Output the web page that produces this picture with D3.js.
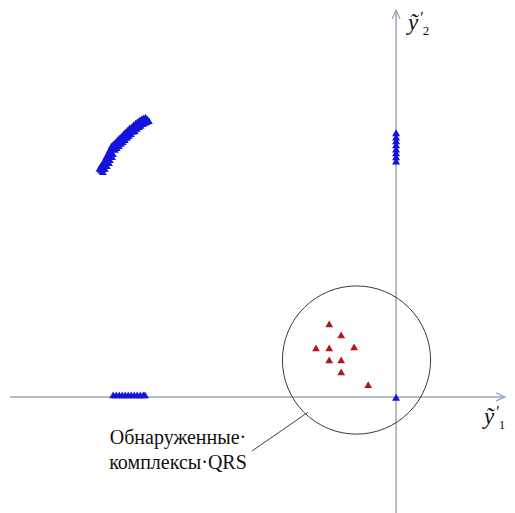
<!DOCTYPE html>
<html>
<head>
<meta charset="utf-8">
<script src="https://cdn.jsdelivr.net/npm/d3@7"></script>
<style>
  body { margin: 0; background: #fff; }
  svg { display: block; }
  text { font-family: "Liberation Serif", "Times New Roman", serif; }
</style>
</head>
<body>
<div id="app"></div>
<script>
const d3 = window.d3;
const width = 515, height = 513;

// Обнаруженные комплексы QRS (red)
const qrsX = [-2.23, -1.83, -2.67, -2.23, -1.40, -2.23, -1.83, -1.83, -0.93];
const qrsY = [2.40, 2.03, 1.60, 1.60, 1.63, 1.20, 1.20, 0.80, 0.37];

// diagonal blue band
const bandX = [-9.83, -9.77, -9.70, -9.63, -9.60, -9.53, -9.50,
  -9.43, -9.37, -9.30, -9.23, -9.17, -9.10, -9.03, -8.97, -8.90, -8.83,
  -8.77, -8.70, -8.63, -8.57, -8.50, -8.43, -8.37, -8.30];
const bandY = [7.53, 7.63, 7.73, 7.83, 7.93, 8.03, 8.13,
  8.27, 8.33, 8.40, 8.47, 8.53, 8.60, 8.67, 8.73, 8.80, 8.87,
  8.90, 8.97, 9.03, 9.07, 9.13, 9.17, 9.20, 9.23];

// blue points on the y2 axis
const onY2 = [8.77, 8.63, 8.50, 8.37, 8.23, 8.10, 7.97, 7.83];
// blue points on the y1 axis
const onY1 = [-9.43, -9.33, -9.23, -9.13, -9.03, -8.93, -8.83, -8.73, -8.63, -8.53, -8.43, -8.37];

const circle = { cx: -1.32, cy: 1.23, r: 2.47 };

const x = d3.scaleLinear().domain([-12.87, 3.63]).range([10, 505]);
const y = d3.scaleLinear().domain([-3.87, 12.9]).range([513, 10]);

const svg = d3.select("#app").append("svg").attr("width", width).attr("height", height);

const axisColor = "#9aa6b6";

// axes
svg.append("line")
  .attr("x1", x(-12.87)).attr("x2", x(3.55))
  .attr("y1", y(0)).attr("y2", y(0))
  .attr("stroke", axisColor).attr("stroke-width", 1.5);
svg.append("line")
  .attr("x1", x(0)).attr("x2", x(0))
  .attr("y1", y(-3.87)).attr("y2", y(12.85))
  .attr("stroke", axisColor).attr("stroke-width", 1.5);

// arrow heads
svg.append("path")
  .attr("d", `M${x(3.63) - 9},${y(0) - 4} L${x(3.63)},${y(0)} L${x(3.63) - 9},${y(0) + 4}`)
  .attr("fill", "none").attr("stroke", "#8fa6c6").attr("stroke-width", 1.3);
svg.append("path")
  .attr("d", `M${x(0) - 4},${y(12.9) + 9} L${x(0)},${y(12.9)} L${x(0) + 4},${y(12.9) + 9}`)
  .attr("fill", "none").attr("stroke", axisColor).attr("stroke-width", 1.3);

// circle around detected QRS complexes
svg.append("circle")
  .attr("cx", x(circle.cx)).attr("cy", y(circle.cy))
  .attr("r", x(circle.r) - x(0))
  .attr("fill", "none").attr("stroke", "#3a3a3a").attr("stroke-width", 1);

const tri = d3.symbol().type(d3.symbolTriangle);

// the band is a few triangles thick: draw each point with a small spread across it
const blue = [];
[-0.055, 0, 0.055].forEach(o => {
  bandX.forEach((v, i) => blue.push([v + o, bandY[i] - o]));
});
onY2.forEach(v => blue.push([0, v]));
onY1.forEach(v => blue.push([v, 0.03]));
blue.push([0, -0.05]);

svg.append("g").selectAll("path")
  .data(blue)
  .join("path")
  .attr("transform", d => `translate(${x(d[0])},${y(d[1])})`)
  .attr("d", tri.size(28)())
  .attr("fill", "#1414dc");

svg.append("g").selectAll("path")
  .data(qrsX.map((v, i) => [v, qrsY[i]]))
  .join("path")
  .attr("transform", d => `translate(${x(d[0])},${y(d[1])})`)
  .attr("d", tri.size(26)())
  .attr("fill", "#b3161c");

// leader line
svg.append("line")
  .attr("x1", 252).attr("y1", 451)
  .attr("x2", x(-2.95)).attr("y2", y(-0.52))
  .attr("stroke", "#404040").attr("stroke-width", 1);

// annotation
const note = svg.append("text")
  .attr("font-size", 20)
  .attr("fill", "#111")
  .attr("text-anchor", "middle");
note.append("tspan").attr("x", 178).attr("y", 444).text("Обнаруженные·");
note.append("tspan").attr("x", 178).attr("y", 469).text("комплексы·QRS");

// axis labels
function axisLabel(px, py, sub) {
  const t = svg.append("text")
    .attr("x", px).attr("y", py)
    .attr("font-size", 23)
    .attr("font-style", "italic")
    .attr("fill", "#111");
  t.append("tspan").text("ỹ");
  t.append("tspan").attr("font-size", 16).attr("dy", -7).attr("dx", 1).text("′");
  t.append("tspan").attr("font-size", 13).attr("font-style", "normal").attr("dy", 12).attr("dx", 0).text(sub);
}
axisLabel(408, 30, "2");
axisLabel(484, 424, "1");
</script>
</body>
</html>
